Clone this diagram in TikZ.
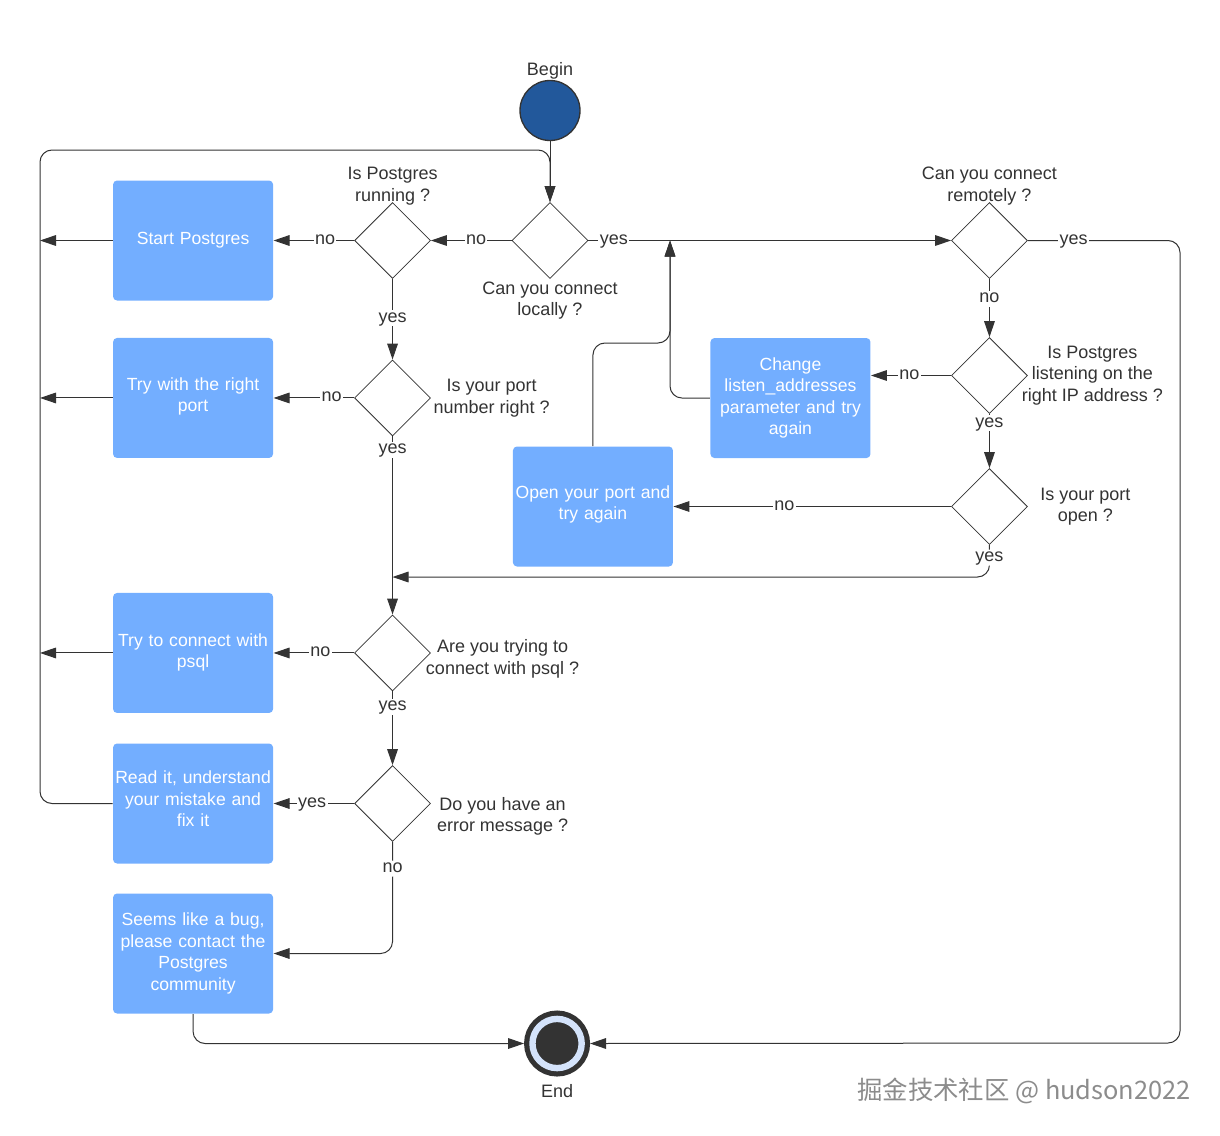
\documentclass[tikz,border=0pt]{standalone}
\usepackage{fontspec}
\setmainfont{Liberation Sans}
\newfontfamily\cjkfont{Noto Sans CJK SC}
\usepackage{tikz}
\usetikzlibrary{positioning,calc}
\usetikzlibrary{shapes.geometric,arrows.meta}
\definecolor{linedark}{HTML}{333333}
\definecolor{boxblue}{HTML}{73AEFF}
\definecolor{beginblue}{HTML}{22589B}
\definecolor{ringblue}{HTML}{D4E3FB}
\definecolor{markgray}{HTML}{8C8C8C}

\begin{document}
\begin{tikzpicture}[x=0.75pt,y=-0.75pt,on grid,>={Triangle[length=12pt,width=8pt]},
    line width=0.75pt,draw=linedark,text=linedark,
    font=\fontsize{13.5}{16.1}\selectfont]

      \tikzset{decision/.style={draw,diamond,aspect=1,minimum size=57pt,inner sep=0pt,line width=0.6pt}}
      \tikzset{stepbox/.style={rectangle,rounded corners=3pt,fill=boxblue,text=white,minimum width=120pt,minimum height=90pt,text width=120pt,inner sep=0pt,align=center,font=\fontsize{13.2}{16.1}\selectfont}}
      \tikzset{caption/.style={align=center,inner sep=0pt}}
      \tikzset{answer/.style={fill=white,inner sep=1pt,text height=8pt,text depth=2pt}}
      \useasboundingbox (0,0) rectangle (1220,1135);

      \node[circle,draw,fill=beginblue,line width=1pt,minimum size=45pt,inner sep=0pt] (begin) at (550,110.5) {};
      \node[decision] (local) [below = 97.5pt of begin] {};
      \node[decision] (running) [left = 118.1pt of local] {};
      \node[decision] (portnum) [below = 118.1pt of running] {};
      \node[decision] (psql) [below = 191.25pt of portnum] {};
      \node[decision] (error) [below = 112.9pt of psql] {};
      \node[decision] (remote) [right = 329.6pt of local] {};
      \node[decision] (listen) [below = 101.25pt of remote] {};
      \node[decision] (portopen) [below = 98.25pt of listen] {};

      \node[stepbox] (start) [left = 149.6pt of running] {\raisebox{1pt}{Start Postgres}};
      \node[stepbox] (tryport) [left = 149.6pt of portnum] {Try with the right\\port\par\vspace{2pt}};
      \node[stepbox] (trypsql) [left = 149.6pt of psql] {Try to connect with\\psql\par\vspace{1pt}};
      \node[stepbox] (readit) [left = 149.6pt of error] {Read it, understand\\your mistake and\\fix it\par\vspace{7pt}};
      \node[stepbox] (bug) [below = 112.5pt of readit] {Seems like a bug,\\please contact the\\Postgres\\community};
      \node[stepbox] (change) [below left = 16.9pt and 149.25pt of listen] {Change\\listen\_addresses\\parameter and try\\again};
      \node[stepbox] (openport) [left = 297.4pt of portopen] {Open your port and\\try again\par\vspace{3pt}};

      \node[circle,draw,double=ringblue,line width=3.9pt,double distance=4.8pt,fill=linedark,minimum size=36.9pt,inner sep=0pt,outer sep=6.3pt] (end) [below right = 67.5pt and 273pt of bug] {};

      \node[caption] (tbegin) [above = 29.6pt of begin] {Begin};
      \node[caption] (tend) [below = 36pt of end] {End};
      \node[caption] (trunning) [above = 40.9pt of running] {Is Postgres\\running ?};
      \node[caption] (tlocal) [below = 45pt of local] {Can you connect\\locally ?};
      \node[caption] (tremote) [above = 40.9pt of remote] {Can you connect\\remotely ?};
      \node[caption] (tportnum) [right = 74.25pt of portnum] {Is your port\\number right ?};
      \node[caption] (tlisten) [right = 77.25pt of listen] {Is Postgres\\listening on the\\right IP address ?};
      \node[caption] (tportopen) [right = 72pt of portopen] {Is your port\\open ?};
      \node[caption] (tpsql) [below right = 4.5pt and 82.5pt of psql] {Are you trying to\\connect with psql ?};
      \node[caption] (terror) [below right = 9.75pt and 82.5pt of error] {Do you have an\\error message ?};
      \node[inner sep=0pt,text=markgray,font=\cjkfont\fontsize{19.05}{20}\selectfont] (mark) at (1024,1091) {掘金技术社区 @ hudson2022};

      \coordinate (busleft) at (40,150);
      \coordinate (merge) at (670,240.5);
      \coordinate (mergemid) at (670,343);
      \coordinate (farcorner) at (1180,1043);
      \coordinate (joinpsql) at (392.5,577);

      \path[->,draw]
      (begin)
      edge [] (local)
      (local)
      edge [] node [answer,pos=0.44] {no} (running)
      edge [] node [answer,pos=0.07] {yes} (remote)
      (running)
      edge [] node [answer,pos=0.36] {no} (start)
      edge [] node [answer,pos=0.49] {yes} (portnum)
      (portnum)
      edge [] node [answer,pos=0.28] {no} (tryport)
      edge [] node [answer,pos=0.075] {yes} (psql)
      (psql)
      edge [] node [answer,pos=0.42] {no} (trypsql)
      edge [] node [answer,pos=0.21] {yes} (error)
      (error)
      edge [] node [answer,pos=0.52] {yes} (readit)
      (remote)
      edge [] node [answer,pos=0.34] {no} (listen)
      (listen)
      edge [] node [answer,pos=0.52] {no} (listen.west -| change.east)
      edge [] node [answer,pos=0.17] {yes} (portopen)
      (portopen)
      edge [] node [answer,pos=0.6] {no} (openport)
      (start)
      edge [] (start -| busleft)
      (tryport)
      edge [] (tryport -| busleft)
      (trypsql)
      edge [] (trypsql -| busleft)
      ;

      \draw[->,rounded corners=9pt] (readit.west) -| (busleft) -| (local.north);
      \draw[->,rounded corners=9pt] (openport.north) |- (mergemid) -- (merge);
      \draw[->,rounded corners=9pt] (change.west) -| (merge);
      \draw[->,rounded corners=9pt] (remote.east) -| node [answer,pos=0.15] {yes} (farcorner) -- (end.east);
      \draw[->,rounded corners=9pt] (portopen.south) |- node [answer,pos=0.2] {yes} (joinpsql);
      \draw[->,rounded corners=9pt] (error.south) |- node [answer,pos=0.12] {no} (bug.east);
      \draw[->,rounded corners=9pt] (bug.south) |- (end.west);
    \end{tikzpicture}
\end{document}
